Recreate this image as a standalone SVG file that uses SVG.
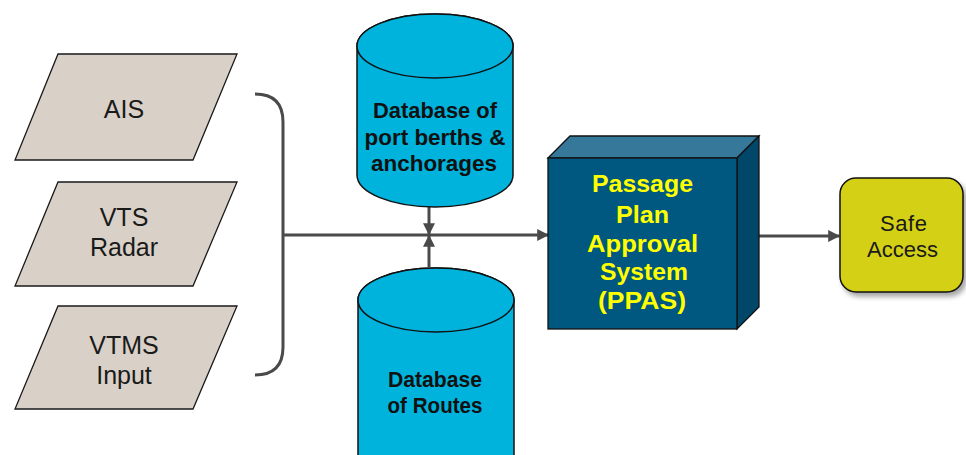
<svg xmlns="http://www.w3.org/2000/svg" width="966" height="455" viewBox="0 0 966 455">
<defs>
<style>
.para{fill:#d9d1c8;stroke:#1a1a1a;stroke-width:1.3}
.cyl{fill:#00b3dd;stroke:#111;stroke-width:1.5}
.lbl{font-family:"Liberation Sans",Arial,sans-serif;font-size:25px;fill:#1a1a1a;text-anchor:middle}
.bold{font-family:"Liberation Sans",Arial,sans-serif;font-weight:bold;font-size:22px;fill:#111;text-anchor:middle}
.ppas{font-family:"Liberation Sans",Arial,sans-serif;font-weight:bold;font-size:24px;fill:#ffff00;text-anchor:middle}
.safe{font-family:"Liberation Sans",Arial,sans-serif;font-size:22px;fill:#1a1a1a;text-anchor:middle}
.conn{fill:none;stroke:#4a4a4a;stroke-width:3}
</style>
<marker id="ah" viewBox="0 0 10 10" refX="9" refY="5" markerWidth="4" markerHeight="4" orient="auto" markerUnits="strokeWidth">
<path d="M0,0 L10,5 L0,10 z" fill="#4a4a4a"/>
</marker>
<filter id="sh" x="-20%" y="-20%" width="150%" height="150%">
<feDropShadow dx="3" dy="4" stdDeviation="2.5" flood-color="#000" flood-opacity="0.35"/>
</filter>
</defs>

<g id="connectors">
<path class="conn" d="M255,94 Q283,94 283,122 L283,347 Q283,375 255,375"/>
<line class="conn" x1="283" y1="235" x2="548" y2="235" marker-end="url(#ah)"/>
<line class="conn" x1="429" y1="207" x2="429" y2="234" marker-end="url(#ah)"/>
<line class="conn" x1="429" y1="267" x2="429" y2="236" marker-end="url(#ah)"/>
<line class="conn" x1="748" y1="236" x2="839" y2="236" marker-end="url(#ah)"/>
</g>

<g id="ais">
<polygon class="para" points="58,54 237,54 193,160 15,160"/>
<text class="lbl" x="124" y="118">AIS</text>
</g>
<g id="vts">
<polygon class="para" points="58,182 237,182 193,286 15,286"/>
<text class="lbl" x="124" y="226">VTS</text>
<text class="lbl" x="124" y="256">Radar</text>
</g>
<g id="vtms">
<polygon class="para" points="58,306 237,306 193,409 15,409"/>
<text class="lbl" x="124" y="354">VTMS</text>
<text class="lbl" x="124" y="384">Input</text>
</g>

<g id="db-berths">
<path class="cyl" d="M357,46 L357,175 A78,32 0 0 0 513,175 L513,46 A78,32 0 0 0 357,46 Z"/>
<ellipse class="cyl" cx="435" cy="46" rx="78" ry="32"/>
<text class="bold" x="435" y="118" textLength="124" lengthAdjust="spacingAndGlyphs">Database  of</text>
<text class="bold" x="435" y="145" textLength="141" lengthAdjust="spacingAndGlyphs">port berths  &amp;</text>
<text class="bold" x="434" y="171" textLength="126" lengthAdjust="spacingAndGlyphs">anchorages</text>
</g>

<g id="db-routes">
<path class="cyl" d="M358,300 L358,470 L514,470 L514,300 A78,32 0 0 0 358,300 Z"/>
<ellipse class="cyl" cx="436" cy="300" rx="78" ry="32"/>
<text class="bold" x="435" y="387" textLength="94" lengthAdjust="spacingAndGlyphs">Database</text>
<text class="bold" x="435" y="413" textLength="95" lengthAdjust="spacingAndGlyphs">of Routes</text>
</g>

<g id="ppas">
<polygon points="548,158 570,136 759,136 737,158" fill="#357899" stroke="#111" stroke-width="1.3"/>
<polygon points="737,158 759,136 759,307 737,329" fill="#00476a" stroke="#111" stroke-width="1.3"/>
<rect x="548" y="158" width="189" height="171" fill="#00577f" stroke="#111" stroke-width="1.3"/>
<text class="ppas" x="642.5" y="192" textLength="101" lengthAdjust="spacingAndGlyphs">Passage</text>
<text class="ppas" x="642.5" y="223" textLength="53" lengthAdjust="spacingAndGlyphs">Plan</text>
<text class="ppas" x="642.5" y="252" textLength="111" lengthAdjust="spacingAndGlyphs">Approval</text>
<text class="ppas" x="644" y="280" textLength="88" lengthAdjust="spacingAndGlyphs">System</text>
<text class="ppas" x="642" y="309" textLength="88" lengthAdjust="spacingAndGlyphs">(PPAS)</text>
</g>

<g id="safe-access">
<rect x="840" y="178" width="123" height="114" rx="16" fill="#d4d012" stroke="#111" stroke-width="1.5" filter="url(#sh)"/>
<text class="safe" x="903.5" y="231" textLength="47" lengthAdjust="spacing">Safe</text>
<text class="safe" x="902.5" y="257" textLength="71" lengthAdjust="spacingAndGlyphs">Access</text>
</g>
</svg>
